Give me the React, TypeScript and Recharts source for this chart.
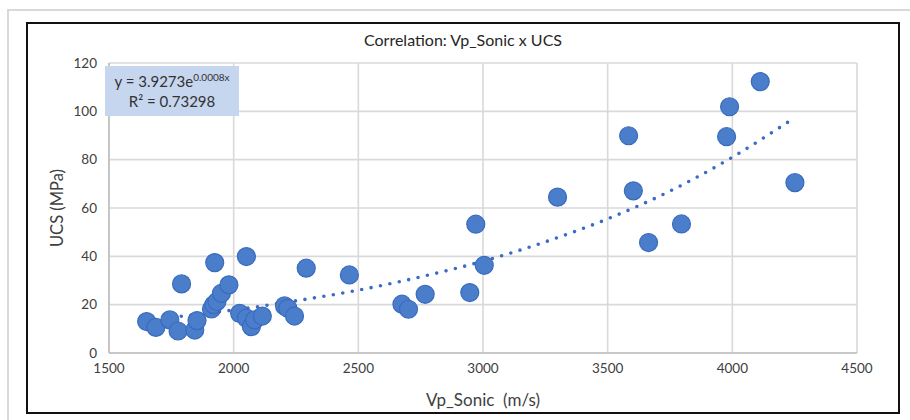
import { ComposedChart, Scatter, Line, XAxis, YAxis, CartesianGrid } from 'recharts';

// measured points (Vp in m/s, UCS in MPa)
const vpSonic = [
  1651, 1688, 1744, 1777, 1791, 1844, 1853, 1911, 1920, 1924, 1933, 1951, 1981,
  2051, 2024, 2051, 2071, 2084, 2115, 2291, 2204, 2217, 2244, 2464, 2675, 2701,
  2768, 2947, 2971, 3005, 3299, 3584, 3603, 3664, 3796, 3977, 3989, 4112, 4251,
];
const ucs = [
  13.0, 10.6, 13.7, 9.1, 28.6, 9.5, 13.4, 18.2, 20.0, 37.4, 21.3, 24.7, 28.2,
  39.9, 16.4, 14.4, 10.9, 13.7, 15.3, 35.1, 19.5, 18.5, 15.3, 32.3, 20.2, 18.1,
  24.3, 25.0, 53.3, 36.3, 64.5, 89.9, 67.1, 45.7, 53.4, 89.5, 101.9, 112.3, 70.5,
];

// exponential trendline
const trendVp = [1790, 2000, 2250, 2500, 2750, 3000, 3250, 3500, 3750, 4000, 4224];
const trendUcs = [15.2, 17.8, 21.6, 26.0, 31.5, 38.0, 46.0, 55.5, 67.0, 81.0, 95.6];

const xTicks = [1500, 2000, 2500, 3000, 3500, 4000, 4500];
const yTicks = [0, 20, 40, 60, 80, 100, 120];

const points = vpSonic.map((x, i) => ({ x, y: ucs[i] }));
const trend = trendVp.map((x, i) => ({ x, y: trendUcs[i] }));

const font = 'Lato, "Open Sans", sans-serif';
const textColor = '#404040';

const Dot = (p: any) => (
  <circle cx={p.cx} cy={p.cy} r={9} fill='#4A7ECB' stroke='#3A6BBE' strokeWidth={1.2} />
);

export default function App() {
  return (
    <div style={{ position: 'absolute', left: 0, top: 0, width: 910, height: 420, overflow: 'hidden', background: '#fff', fontFamily: font }}>
      <div style={{ position: 'absolute', left: 7, top: 9, width: 920, height: 430, border: '2px solid #d9d9d9' }} />
      <div style={{ position: 'absolute', left: 26, top: 22, width: 870, height: 388, border: '2px solid #111' }} />
      <div style={{ position: 'absolute', left: 0, top: 0 }}>
        <ComposedChart
          width={910}
          height={420}
          margin={{ top: 63, right: 53, bottom: 37, left: 69 }}
        >
          <CartesianGrid stroke='#d9d9d9' strokeWidth={1.6} />
          <XAxis
            type='number'
            dataKey='x'
            domain={[1500, 4500]}
            ticks={xTicks}
            height={30}
            stroke='#bfbfbf'
            strokeWidth={1.6}
            tickLine={false}
            tickSize={0}
            tickMargin={10}
            tick={{ fill: textColor, fontSize: 13.5, fontFamily: font }}
          />
          <YAxis
            type='number'
            dataKey='y'
            domain={[0, 120]}
            ticks={yTicks}
            width={40}
            stroke='#bfbfbf'
            strokeWidth={1.6}
            tickLine={false}
            tickSize={0}
            tickMargin={12}
            tick={{ fill: textColor, fontSize: 13.5, fontFamily: font }}
          />
          <Scatter data={points} dataKey='y' shape={Dot} isAnimationActive={false} />
          <Line
            data={trend}
            dataKey='y'
            type='monotone'
            stroke='#3A6BC6'
            strokeWidth={3.6}
            strokeDasharray='0 9.6'
            strokeLinecap='round'
            dot={false}
            activeDot={false}
            isAnimationActive={false}
          />
        </ComposedChart>
      </div>
      <div style={{ position: 'absolute', left: 0, width: 926, top: 30, textAlign: 'center', fontSize: 16, color: '#262626' }}>
        Correlation: Vp_Sonic x UCS
      </div>
      <div style={{ position: 'absolute', left: 0, width: 966, top: 389, textAlign: 'center', fontSize: 17, color: textColor }}>
        Vp_Sonic&nbsp;&nbsp;(m/s)
      </div>
      <div style={{ position: 'absolute', left: 57, top: 208, transform: 'translate(-50%, -50%) rotate(-90deg)', fontSize: 16.5, color: textColor, whiteSpace: 'nowrap' }}>
        UCS (MPa)
      </div>
      <div style={{ position: 'absolute', left: 105, top: 66, width: 134, height: 50, background: '#C6D6EF', color: '#333', fontSize: 15, textAlign: 'center', lineHeight: '20px', paddingTop: 5, boxSizing: 'border-box' }}>
        <div>y = 3.9273e<sup style={{ fontSize: 10, lineHeight: 0 }}>0.0008x</sup></div>
        <div>R² = 0.73298</div>
      </div>
    </div>
  );
}
